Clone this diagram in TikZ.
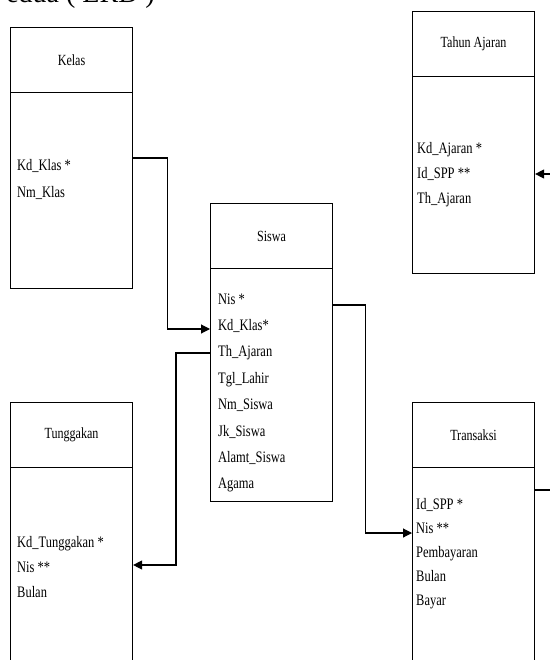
\documentclass[tikz,border=0pt]{standalone}
\usepackage{fontspec}
\setmainfont{Liberation Serif}[FakeStretch=0.78]
\newfontfamily\plainserif{Liberation Serif}
\usetikzlibrary{calc,arrows.meta}
\begin{document}
\begin{tikzpicture}[x=1pt,y=1pt,
  box/.style={draw, line width=1.1pt, minimum width=122pt, inner sep=0pt, anchor=north west},
  hdr/.style={box, minimum height=65pt, font=\fontsize{15.5}{18}\selectfont},
  attr/.style={anchor=base west, inner sep=0pt, font=\fontsize{16}{18}\selectfont},
  conn/.style={line width=1.1pt, -{Triangle[length=9pt,width=9pt]}}
]
\useasboundingbox (0,0) rectangle (549,-660);

% top caption (cut off at the page edge)
\node[anchor=base east, inner sep=0pt, font=\plainserif\fontsize{28}{30}\selectfont] (cap) at (155,-3) {edua ( ERD )};

% Kelas
\node[hdr] (kelasH) at (10,-27) {Kelas};
\node[box, minimum height=196pt] (kelasB) at (10,-92) {};
\foreach \t [count=\i from 0] in {Kd\_Klas *, Nm\_Klas}
  \node[attr] (kelasA\i) at (17,-171-26*\i) {\t};

% Tahun Ajaran
\node[hdr] (tahunH) at (412,-11) {Tahun Ajaran};
\node[box, minimum height=197pt] (tahunB) at (412,-76) {};
\foreach \t [count=\i from 0] in {Kd\_Ajaran *, Id\_SPP **, Th\_Ajaran}
  \node[attr] (tahunA\i) at (417,-154-25*\i) {\t};

% Siswa
\node[hdr] (siswaH) at (210,-203) {Siswa};
\node[box, minimum height=233pt] (siswaB) at (210,-268) {};
\foreach \t [count=\i from 0] in {Nis *, Kd\_Klas*, Th\_Ajaran, Tgl\_Lahir, Nm\_Siswa, Jk\_Siswa, Alamt\_Siswa, Agama}
  \node[attr] (siswaA\i) at (218,-304-26.4*\i) {\t};

% Tunggakan
\node[hdr] (tungH) at (10,-402) {Tunggakan};
\node[box, minimum height=230pt] (tungB) at (10,-467) {};
\foreach \t [count=\i from 0] in {Kd\_Tunggakan *, Nis **, Bulan}
  \node[attr] (tungA\i) at (17,-547-25*\i) {\t};

% Transaksi
\node[hdr] (tranH) at (412,-402) {Transaksi};
\node[box, minimum height=230pt] (tranB) at (412,-467) {};
\foreach \t [count=\i from 0] in {Id\_SPP *, Nis **, Pembayaran, Bulan, Bayar}
  \node[attr] (tranA\i) at (416,-509-24*\i) {\t};

% connectors
\draw[conn] ($(kelasB.north east)+(0,-66)$) -- ++(34,0) |- ($(siswaB.north west)+(0,-61)$);
\draw[conn] ($(siswaB.north west)+(0,-85)$) -- ++(-34,0) |- ($(tungB.north east)+(0,-98)$);
\draw[conn] ($(siswaB.north east)+(0,-37)$) -- ++(32,0) |- ($(tranB.north west)+(0,-66)$);
\draw[conn] ($(tranB.north east)+(0,-23)$) -- ++(30,0) |- ($(tahunB.north east)+(0,-98)$);
\end{tikzpicture}
\end{document}
